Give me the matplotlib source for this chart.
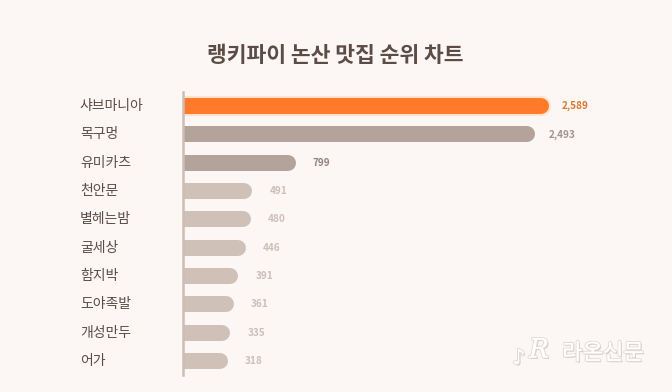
import matplotlib
matplotlib.use("Agg")
import matplotlib.pyplot as plt
import matplotlib.transforms as mtransforms
import matplotlib.patheffects as pe

plt.rcParams['font.family'] = ['Noto Sans CJK KR', 'DejaVu Sans']

title = "랭키파이 논산 맛집 순위 차트"
categories = ["샤브마니아", "목구멍", "유미카츠", "천안문", "별헤는밤",
              "굴세상", "함지박", "도야족발", "개성만두", "어가"]
values = [2589, 2493, 799, 491, 480, 446, 391, 361, 335, 318]
value_labels = ["2,589", "2,493", "799", "491", "480", "446", "391", "361", "335", "318"]

bg = "#FCF7F5"
bar_colors = ["#FF7B2B", "#B3A39B", "#B3A39B"] + ["#CFC1B8"] * 7
label_colors = ["#D9782F", "#A1948E", "#928580"] + ["#CDBFB8"] * 7
text_color = "#5B4C46"

W, H = 672, 392
fig = plt.figure(figsize=(W / 100, H / 100), dpi=100, facecolor=bg)
ax = fig.add_axes([183 / W, 17 / H, 424 / W, 283 / H], facecolor=bg)
ax.set_xlim(0, 3000)
ax.set_ylim(len(categories) - 0.5, -0.5)

bar_lw_pt = 16 * 72 / 100  # 16 px thick bars
shift = mtransforms.ScaledTranslation(-bar_lw_pt / 2 / 72, 0, fig.dpi_scale_trans)
label_tr = mtransforms.blended_transform_factory(fig.transFigure, ax.transData)
for i, (v, c) in enumerate(zip(values, bar_colors)):
    line, = ax.plot([-200, v], [i, i], color=c, lw=bar_lw_pt,
                    solid_capstyle='round', transform=ax.transData + shift,
                    zorder=2)
    if i == 0:
        line.set_path_effects([pe.Stroke(linewidth=bar_lw_pt + 3, foreground="#FFE3CC"),
                               pe.Normal()])
    off = mtransforms.ScaledTranslation(13 / 100 if i < 2 else 17 / 100, 0, fig.dpi_scale_trans)
    ax.text(v, i, value_labels[i], transform=ax.transData + off, ha='left', va='center',
            fontsize=7.2, fontweight='bold', color=label_colors[i])
    ax.text(80 / W, i, categories[i], ha='left', va='center', fontsize=10,
            color=text_color, transform=label_tr, clip_on=False)

for s in ['top', 'right', 'bottom']:
    ax.spines[s].set_visible(False)
ax.spines['left'].set_color("#CDBDB5")
ax.spines['left'].set_linewidth(1.8)
ax.spines['left'].set_zorder(5)
ax.set_xticks([])
ax.set_yticks([])

fig.text(335 / W, 1 - 56 / H, title, ha='center', va='center', fontsize=15.5,
         fontweight='bold', color=text_color)

wm_fx = [pe.SimplePatchShadow(offset=(1, -1), shadow_rgbFace="#8A7F7A", alpha=0.4),
         pe.withStroke(linewidth=1.5, foreground="#E2DAD6"), pe.Normal()]
fig.text(562 / W, 1 - 353 / H, "라온신문", ha='left', va='center', fontsize=16,
         color='white', path_effects=wm_fx)
fig.text(512 / W, 1 - 358 / H, "♪", ha='left', va='center', fontsize=15,
         color='white', family='DejaVu Sans', path_effects=wm_fx)
fig.text(529 / W, 1 - 350 / H, "R", ha='left', va='center', fontsize=19, style='italic',
         color='white', family='DejaVu Serif', path_effects=wm_fx)

fig.savefig("out.png", dpi=100, facecolor=bg)
